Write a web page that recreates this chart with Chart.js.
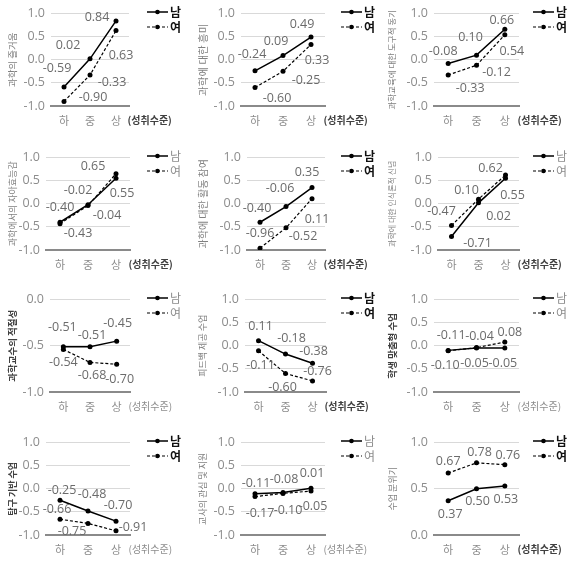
<!DOCTYPE html>
<html>
<head>
<meta charset="utf-8">
<script src="https://cdn.jsdelivr.net/npm/chart.js"></script>
<style>
  body { margin: 0; background: #fff; width: 571px; height: 561px; position: relative; overflow: hidden; }
  .panel { position: absolute; width: 191px; height: 140px; }
</style>
</head>
<body>
<script>
// ---- data ----
const levels = ['하', '중', '상'];
const titles = [
  '과학의 즐거움', '과학에 대한 흥미', '과학교육에 대한 도구적 동기',
  '과학에서의 자아효능감', '과학에 대한 활동 참여', '과학에 대한 인식론적 신념',
  '과학교수의 적절성', '피드백 제공 수업', '학생 맞춤형 수업',
  '탐구 기반 수업', '교사의 관심 및 지원', '수업 분위기'
];
const maleScores = [
  [-0.59, 0.02, 0.84], [-0.24, 0.09, 0.49], [-0.08, 0.10, 0.66],
  [-0.40, -0.02, 0.55], [-0.40, -0.06, 0.35], [-0.71, 0.02, 0.55],
  [-0.51, -0.51, -0.45], [0.11, -0.18, -0.38], [-0.10, -0.05, -0.05],
  [-0.25, -0.48, -0.70], [-0.11, -0.08, 0.01], [0.37, 0.50, 0.53]
];
const femaleScores = [
  [-0.90, -0.33, 0.63], [-0.60, -0.25, 0.33], [-0.33, -0.12, 0.54],
  [-0.43, -0.04, 0.65], [-0.96, -0.52, 0.11], [-0.47, 0.10, 0.62],
  [-0.54, -0.68, -0.70], [-0.11, -0.60, -0.76], [-0.11, -0.04, 0.08],
  [-0.66, -0.75, -0.91], [-0.17, -0.10, -0.05], [0.67, 0.78, 0.76]
];
const axisMin = [-1, -1, -1, -1, -1, -1, -1, -1, -1, -1, -1, 0];
const axisMax = [1, 1, 1, 1, 1, 1, 0, 1, 1, 1, 1, 1];
const seriesNames = ['남', '여'];
const axisNote = '(성취수준)';

// ---- layout (pixel placement only) ----
const colLeft = [0, 190, 380];
const rowTop = [0, 144, 286, 429];
const plotLeft = [51, 51, 54, 46, 57, 58, 50, 55, 54, 46, 51, 54];
const plotRight = [129, 135, 139, 130, 135, 139, 130, 136, 139, 130, 135, 139];
const legendX = [147, 151, 153];
const titleSize = [9.5, 10.5, 8.5, 9, 10, 8, 9.5, 9, 9.5, 9, 9, 9];
const titleBold = [false, false, false, false, false, false, true, false, true, true, false, false];
const lightLegend = [false, false, false, true, false, true, true, false, true, false, true, false];
const lightNote = [false, false, false, false, false, false, true, false, true, true, true, false];
const maleOffsets = [
  [[-7, -19], [-22, -13], [-19, -3]], [[-3, -16], [-7, -14], [-9, -13]], [[-5, -12], [-6, -18], [-3, -9]],
  [[0, -15], [-10, -14], [6, 15]], [[-3, -14], [-6, -18], [-5, -15]], [[26, 7], [20, 14], [7, 17]],
  [[-1, -19], [2, -11], [1, -18]], [[2, -14], [6, -16], [1, -12]], [[-3, 15], [-2, 15], [-2, 15]],
  [[2, -10], [4, -17], [2, -16]], [[1, -10], [1, -13], [1, -15]], [[2, 14], [1, 13], [1, 13]]
];
const femaleOffsets = [
  [[29, -4], [22, 7], [5, 25]], [[22, 11], [23, 9], [6, 16]], [[22, 13], [20, 7], [7, 17]],
  [[18, 10], [19, 10], [-23, -7]], [[0, -15], [17, 9], [5, 21]], [[-10, -14], [-12, -9], [-15, -7]],
  [[0, 13], [2, 13], [3, 15]], [[2, 15], [-3, 14], [5, -9]], [[3, -15], [3, -11], [5, -10]],
  [[-3, -10], [-16, 8], [17, -3]], [[5, 17], [5, 17], [2, 15]], [[0, -12], [3, -10], [3, -9]]
];

const FONT = '"Open Sans", "Noto Sans CJK KR", sans-serif';
const KFONT = '"Noto Sans CJK KR", sans-serif';

// value labels next to each point
const pointLabels = {
  id: 'pointLabels',
  afterDatasetsDraw(chart) {
    const ctx = chart.ctx;
    ctx.save();
    ctx.font = `12.5px ${FONT}`;
    ctx.fillStyle = '#6b6b6b';
    ctx.textAlign = 'center';
    ctx.textBaseline = 'middle';
    chart.data.datasets.forEach((ds, i) => {
      chart.getDatasetMeta(i).data.forEach((pt, j) => {
        const [dx, dy] = ds.labelOffsets[j];
        ctx.fillText(ds.data[j].toFixed(2), pt.x + dx, pt.y + dy);
      });
    });
    ctx.restore();
  }
};

// legend on the right + "(성취수준)" note
const sideDecor = {
  id: 'sideDecor',
  afterDraw(chart, args, opts) {
    const ctx = chart.ctx;
    const area = chart.chartArea;
    ctx.save();
    [12, 27].forEach((y, k) => {
      const x0 = opts.legendX, x1 = x0 + 21;
      ctx.strokeStyle = '#000';
      ctx.lineWidth = k === 0 ? 1.5 : 1.2;
      ctx.setLineDash(k === 0 ? [] : [3, 2]);
      ctx.beginPath(); ctx.moveTo(x0, y); ctx.lineTo(x1, y); ctx.stroke();
      ctx.setLineDash([]);
      ctx.fillStyle = '#000';
      ctx.beginPath(); ctx.arc((x0 + x1) / 2, y, 2.3, 0, Math.PI * 2); ctx.fill();
      ctx.font = opts.lightLegend ? `12px ${KFONT}` : `bold 12px ${KFONT}`;
      ctx.fillStyle = opts.lightLegend ? '#8c8c8c' : '#111';
      ctx.textAlign = 'left'; ctx.textBaseline = 'middle';
      ctx.fillText(seriesNames[k], x1 + 2, y);
    });
    ctx.font = opts.lightNote ? `10px ${KFONT}` : `bold 10px ${KFONT}`;
    ctx.fillStyle = opts.lightNote ? '#8c8c8c' : '#404040';
    ctx.textAlign = 'left'; ctx.textBaseline = 'middle';
    ctx.fillText(axisNote, area.right - 1.5, area.bottom + 14);
    ctx.restore();
  }
};

titles.forEach((title, i) => {
  const col = i % 3, row = Math.floor(i / 3);
  const div = document.createElement('div');
  div.className = 'panel';
  div.style.left = colLeft[col] + 'px';
  div.style.top = rowTop[row] + 'px';
  const canvas = document.createElement('canvas');
  canvas.width = 191; canvas.height = 140;
  div.appendChild(canvas);
  document.body.appendChild(div);

  new Chart(canvas.getContext('2d'), {
    type: 'line',
    data: {
      labels: levels,
      datasets: [
        { label: seriesNames[0], data: maleScores[i], labelOffsets: maleOffsets[i],
          borderColor: '#000', backgroundColor: '#000', borderWidth: 1.5,
          pointRadius: 2.5, pointBackgroundColor: '#000', pointBorderWidth: 0, tension: 0 },
        { label: seriesNames[1], data: femaleScores[i], labelOffsets: femaleOffsets[i],
          borderColor: '#000', backgroundColor: '#000', borderWidth: 1.2, borderDash: [3, 2],
          pointRadius: 2.5, pointBackgroundColor: '#000', pointBorderWidth: 0, tension: 0 }
      ]
    },
    options: {
      responsive: false,
      animation: false,
      devicePixelRatio: 1,
      layout: { padding: { top: 7, left: 0, bottom: 0, right: 191 - plotRight[i] } },
      plugins: {
        legend: { display: false },
        tooltip: { enabled: false },
        sideDecor: { legendX: legendX[col], lightLegend: lightLegend[i], lightNote: lightNote[i] }
      },
      scales: {
        x: {
          offset: true,
          grid: { display: false, drawTicks: false },
          border: { display: true, color: '#8a8a8a', width: 2 },
          ticks: { color: '#8c8c8c', font: { family: KFONT, size: 11 }, padding: 8 },
          afterFit: s => { s.height = 34; }
        },
        y: {
          min: axisMin[i], max: axisMax[i],
          grid: { color: '#d9d9d9', lineWidth: 1, drawTicks: false },
          border: { display: false },
          ticks: { stepSize: 0.5, color: '#8c8c8c', font: { family: FONT, size: 12.5 }, padding: 6,
                   callback: v => Number(v).toFixed(1) },
          title: { display: true, text: title, color: titleBold[i] ? '#404040' : '#808080',
                   font: { family: KFONT, size: titleSize[i], weight: titleBold[i] ? 'bold' : 'normal' },
                   padding: { top: 7, bottom: 0 } },
          afterFit: s => { s.width = plotLeft[i]; }
        }
      }
    },
    plugins: [pointLabels, sideDecor]
  });
});
</script>
</body>
</html>
